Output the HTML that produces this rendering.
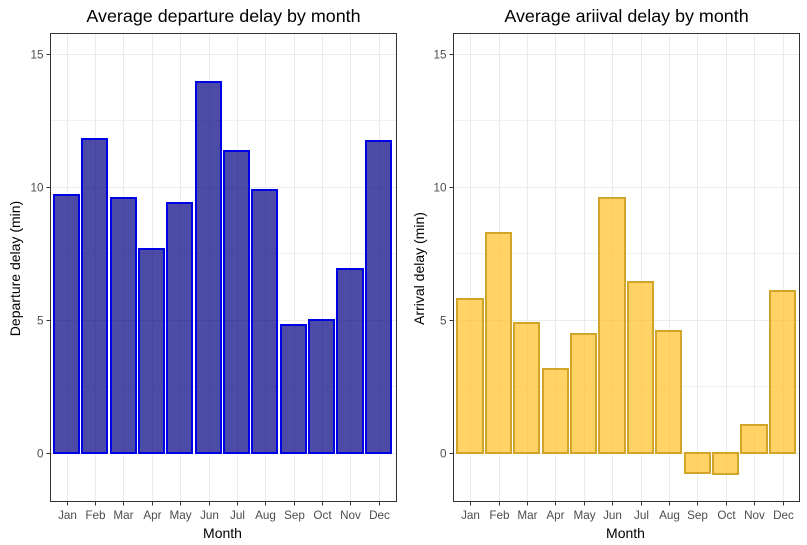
<!DOCTYPE html>
<html lang="en">
<head>
<meta charset="utf-8">
<title>Average delay by month</title>
<style>
html,body{margin:0;padding:0;background:#fff;width:807px;height:545px;overflow:hidden}
svg{display:block}
text{font-family:"Liberation Sans",Arial,sans-serif}
.tick-label{font-size:11.7px;fill:#4d4d4d}
.axis-title{font-size:14px;fill:#000}
.chart-title{font-size:17.9px;fill:#000}
</style>
</head>
<body>
<svg id="chart" xmlns="http://www.w3.org/2000/svg" width="807" height="545" viewBox="0 0 807 545">
<rect x="0" y="0" width="807" height="545" fill="#ffffff"/>
</svg>
<script>
const months = ['Jan','Feb','Mar','Apr','May','Jun','Jul','Aug','Sep','Oct','Nov','Dec'];
const departureDelays = [9.72,11.83,9.61,7.68,9.41,13.95,11.37,9.89,4.82,5.01,6.93,11.75];
const arrivalDelays = [5.81,8.29,4.91,3.17,4.49,9.59,6.44,4.60,-0.74,-0.79,1.08,6.10];
const yTicks = [0,5,10,15];
const yMinorTicks = [2.5,7.5,12.5];

const NS = 'http://www.w3.org/2000/svg';
const svg = document.getElementById('chart');

function add(parent, tag, attrs, text) {
  const el = document.createElementNS(NS, tag);
  for (const k in attrs) el.setAttribute(k, attrs[k]);
  if (text !== undefined) el.textContent = text;
  parent.appendChild(el);
  return el;
}

function yScale(v) { return 453.3 - 26.6 * v; }

function drawPanel(cfg) {
  const xScale = i => cfg.x0 + cfg.step * i;
  const top = 33.5, bottom = 501.5;
  const panel = add(svg, 'g', {});
  
  

  yMinorTicks.forEach(t => {
    const py = Math.floor(yScale(t)) + 0.5;
    const line = add(panel, 'line', {x1: cfg.left, x2: cfg.right, y1: py, y2: py, stroke: '#f0f0f0', 'stroke-width': 1});
    
    
  });
  yTicks.forEach(t => {
    const py = Math.floor(yScale(t)) + 0.5;
    const line = add(panel, 'line', {x1: cfg.left, x2: cfg.right, y1: py, y2: py, stroke: '#ebebeb', 'stroke-width': 1});
    
    
  });
  months.forEach((m, i) => {
    const px = Math.floor(xScale(i)) + 0.5;
    const line = add(panel, 'line', {x1: px, x2: px, y1: top, y2: bottom, stroke: '#ebebeb', 'stroke-width': 1});
    
    
  });

  cfg.values.forEach((v, i) => {
    const c = xScale(i);
    const l = Math.round(c - 13.3), r = Math.round(c + 11.8);
    const y0 = Math.round(yScale(0)), y1 = Math.round(yScale(v));
    const bar = add(panel, 'path', {
      d: 'M' + l + ' ' + y0 + 'L' + l + ' ' + y1 + 'L' + r + ' ' + y1 + 'L' + r + ' ' + y0 + 'Z',
      fill: cfg.fill, 'fill-opacity': 0.7, stroke: cfg.stroke, 'stroke-width': 2
    });
    
    
  });

  const frame = add(panel, 'rect', {x: cfg.left, y: top, width: cfg.right - cfg.left, height: bottom - top, fill: 'none', stroke: '#333333', 'stroke-width': 1});
  
  

  yTicks.forEach(t => {
    const py = Math.floor(yScale(t)) + 0.5;
    const tick = add(panel, 'line', {x1: cfg.left - 4, x2: cfg.left, y1: py, y2: py, stroke: '#333333', 'stroke-width': 1});
    
    
    const label = add(panel, 'text', {x: cfg.left - 7, y: py + 4, 'text-anchor': 'end', class: 'tick-label'}, String(t));
    
    
  });
  months.forEach((m, i) => {
    const px = Math.floor(xScale(i)) + 0.5;
    const tick = add(panel, 'line', {x1: px, x2: px, y1: bottom, y2: bottom + 4, stroke: '#333333', 'stroke-width': 1});
    
    
    const label = add(panel, 'text', {x: px, y: 519, 'text-anchor': 'middle', class: 'tick-label'}, m);
    
    
  });

  const mid = (cfg.left + cfg.right) / 2;
  const title = add(panel, 'text', {x: mid, y: 22, 'text-anchor': 'middle', class: 'chart-title'}, cfg.title);
  
  
  const xTitle = add(panel, 'text', {x: mid - 1, y: 538, 'text-anchor': 'middle', class: 'axis-title'}, 'Month');
  
  
  const yTitle = add(panel, 'text', {x: 0, y: 0, 'text-anchor': 'middle', class: 'axis-title', transform: 'translate(' + cfg.yTitleX + ' 268.5) rotate(-90)'}, cfg.yTitle);
  
  
}

drawPanel({name: 'departure', left: 50.5, right: 396.5, x0: 67.3, step: 28.34, values: departureDelays,
  fill: '#000080', stroke: '#0000e6', title: 'Average departure delay by month', yTitle: 'Departure delay (min)', yTitleX: 20});
drawPanel({name: 'arrival', left: 453.5, right: 799.5, x0: 470.7, step: 28.4, values: arrivalDelays,
  fill: '#FFC125', stroke: '#D2A428', title: 'Average ariival delay by month', yTitle: 'Arrival delay (min)', yTitleX: 424});
</script>
</body>
</html>
